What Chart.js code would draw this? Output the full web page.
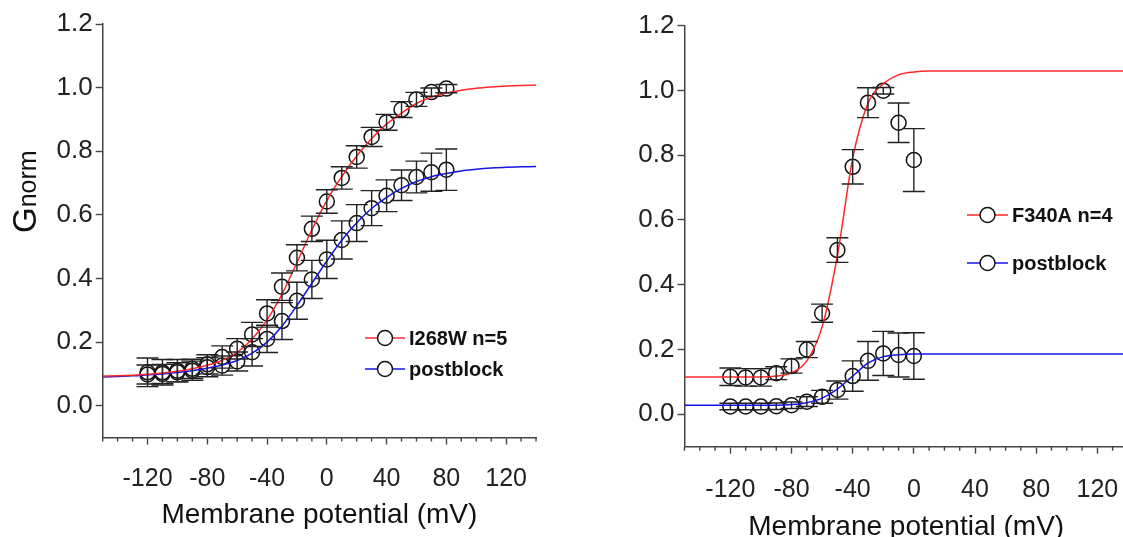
<!DOCTYPE html>
<html>
<head>
<meta charset="utf-8">
<script src="https://cdn.jsdelivr.net/npm/chart.js@4.4.0/dist/chart.umd.min.js"></script>
<style>
html, body { margin: 0; padding: 0; background: #fff; overflow: hidden; width: 1123px; height: 537px; }
canvas { position: absolute; top: 0; }
#left { left: 0; }
#right { left: 560px; }
</style>
</head>
<body>
<canvas id="left" width="560" height="537"></canvas>
<canvas id="right" width="580" height="550"></canvas>
<script>
// ---- left panel: I268W ----
var vLeft = [-120, -110, -100, -90, -80, -70, -60, -50, -40, -30, -20, -10, 0, 10, 20, 30, 40, 50, 60, 70, 80];
var i268w = [0.105, 0.105, 0.11, 0.116, 0.13, 0.153, 0.179, 0.224, 0.29, 0.374, 0.465, 0.556, 0.642, 0.716, 0.782, 0.845, 0.891, 0.931, 0.963, 0.986, 0.997];
var i268wErr = [0.045, 0.04, 0.035, 0.03, 0.03, 0.035, 0.032, 0.038, 0.043, 0.043, 0.041, 0.04, 0.037, 0.035, 0.035, 0.03, 0.025, 0.025, 0.022, 0.013, 0.013];
var postLeft = [0.098, 0.1, 0.105, 0.11, 0.121, 0.126, 0.139, 0.168, 0.21, 0.266, 0.33, 0.397, 0.46, 0.521, 0.574, 0.621, 0.66, 0.693, 0.719, 0.734, 0.742];
var postLeftErr = [0.03, 0.03, 0.03, 0.03, 0.03, 0.03, 0.03, 0.043, 0.043, 0.058, 0.058, 0.06, 0.06, 0.06, 0.058, 0.055, 0.05, 0.048, 0.05, 0.06, 0.065];

// fitted curves, read every 10 mV
var vFit = [-150, -140, -130, -120, -110, -100, -90, -80, -70, -60, -50, -40, -30, -20, -10, 0, 10, 20, 30, 40, 50, 60, 70, 80, 90, 100, 110, 120, 130, 140];
var i268wFit = [0.093, 0.094, 0.096, 0.099, 0.103, 0.108, 0.116, 0.127, 0.143, 0.168, 0.21, 0.27, 0.35, 0.45, 0.553, 0.645, 0.72, 0.785, 0.84, 0.885, 0.92, 0.95, 0.97, 0.983, 0.992, 0.998, 1.002, 1.005, 1.007, 1.008];
var postLeftFit = [0.09, 0.092, 0.094, 0.097, 0.1, 0.104, 0.11, 0.118, 0.128, 0.142, 0.165, 0.2, 0.25, 0.315, 0.385, 0.455, 0.52, 0.575, 0.62, 0.655, 0.683, 0.705, 0.72, 0.73, 0.738, 0.743, 0.747, 0.75, 0.751, 0.752];

// ---- right panel: F340A ----
var vRight = [-120, -110, -100, -90, -80, -70, -60, -50, -40, -30, -20, -10, 0];
var f340a = [0.116, 0.114, 0.114, 0.127, 0.149, 0.2, 0.312, 0.507, 0.764, 0.962, 0.999, 0.9, 0.785];
var f340aErr = [0.027, 0.027, 0.027, 0.02, 0.022, 0.025, 0.028, 0.038, 0.053, 0.046, 0.01, 0.061, 0.097];
var postRight = [0.024, 0.024, 0.024, 0.025, 0.028, 0.039, 0.054, 0.075, 0.118, 0.165, 0.188, 0.183, 0.18];
var postRightErr = [0.01, 0.01, 0.01, 0.01, 0.01, 0.015, 0.02, 0.028, 0.047, 0.06, 0.068, 0.068, 0.072];
var f340aFit = [0.115, 0.115, 0.115, 0.115, 0.115, 0.115, 0.118, 0.128, 0.165, 0.27, 0.49, 0.79, 0.96, 1.02, 1.048, 1.057, 1.06, 1.06, 1.06, 1.06, 1.06, 1.06, 1.06, 1.06, 1.06, 1.06, 1.06, 1.06, 1.06, 1.06];
var postRightFit = [0.028, 0.028, 0.028, 0.028, 0.028, 0.028, 0.028, 0.03, 0.036, 0.05, 0.078, 0.118, 0.158, 0.178, 0.184, 0.186, 0.186, 0.186, 0.186, 0.186, 0.186, 0.186, 0.186, 0.186, 0.186, 0.186, 0.186, 0.186, 0.186, 0.186];

var xMajor = [-120, -80, -40, 0, 40, 80, 120];
var xMinor = [-150, -140, -130, -110, -100, -90, -70, -60, -50, -30, -20, -10, 10, 20, 30, 50, 60, 70, 90, 100, 110, 130, 140];
var yTicks = [0, 0.2, 0.4, 0.6, 0.8, 1.0, 1.2];

var FONT = "'Liberation Sans', Arial, sans-serif";
var RED = 'rgb(255,40,40)';
var BLUE = 'rgb(20,20,235)';
var AXIS = '#444';

function pts(xs, ys) {
  return xs.map(function (x, i) { return { x: x, y: ys[i] }; });
}

// error bars with caps
var errorBars = {
  id: 'errorBars',
  afterDatasetsDraw: function (chart) {
    var ctx = chart.ctx, xs = chart.scales.x, ys = chart.scales.y;
    ctx.save();
    ctx.strokeStyle = '#222';
    ctx.lineWidth = 1.4;
    chart.data.datasets.forEach(function (ds) {
      if (!ds.err) return;
      ds.data.forEach(function (p, i) {
        var px = xs.getPixelForValue(p.x);
        var top = ys.getPixelForValue(p.y + ds.err[i]);
        var bot = ys.getPixelForValue(p.y - ds.err[i]);
        ctx.beginPath();
        ctx.moveTo(px, top); ctx.lineTo(px, bot);
        ctx.moveTo(px - 11, top); ctx.lineTo(px + 11, top);
        ctx.moveTo(px - 11, bot); ctx.lineTo(px + 11, bot);
        ctx.stroke();
      });
    });
    ctx.restore();
  }
};

// minor x ticks, y title and legend
var decorations = {
  id: 'decorations',
  afterDraw: function (chart, args, o) {
    var ctx = chart.ctx, xs = chart.scales.x;
    ctx.save();
    ctx.strokeStyle = AXIS;
    ctx.lineWidth = 1.4;
    ctx.beginPath();
    xMinor.forEach(function (v) {
      var px = xs.getPixelForValue(v);
      ctx.moveTo(px, xs.top); ctx.lineTo(px, xs.top + 4);
    });
    ctx.stroke();

    // Gnorm
    ctx.fillStyle = '#111';
    ctx.translate(o.gx, o.gy);
    ctx.rotate(-Math.PI / 2);
    ctx.font = '33px ' + FONT;
    ctx.fillText('G', 0, 0);
    var w = ctx.measureText('G').width;
    ctx.font = '25px ' + FONT;
    ctx.fillText('norm', w, 0);
    ctx.setTransform(1, 0, 0, 1, 0, 0);

    // legend
    o.legend.forEach(function (it) {
      ctx.strokeStyle = it.color;
      ctx.lineWidth = 1.5;
      ctx.beginPath();
      ctx.moveTo(it.x1, it.y); ctx.lineTo(it.x2, it.y);
      ctx.stroke();
      ctx.strokeStyle = '#111';
      ctx.fillStyle = '#fff';
      ctx.beginPath();
      ctx.arc((it.x1 + it.x2) / 2, it.y, 7.5, 0, Math.PI * 2);
      ctx.fill();
      ctx.stroke();
      ctx.fillStyle = '#111';
      ctx.font = 'bold 20px ' + FONT;
      ctx.textBaseline = 'middle';
      ctx.fillText(it.text, it.x2 + 4, it.y + 1);
    });
    ctx.restore();
  }
};

function makePanel(id, cfg) {
  var canvas = document.getElementById(id);
  var H = canvas.height;
  return new Chart(canvas, {
    type: 'scatter',
    data: {
      datasets: [
        { type: 'line', data: pts(vFit, cfg.fitA), borderColor: RED, borderWidth: 1.5, pointRadius: 0, cubicInterpolationMode: 'monotone', fill: false },
        { type: 'line', data: pts(vFit, cfg.fitB), borderColor: BLUE, borderWidth: 1.5, pointRadius: 0, cubicInterpolationMode: 'monotone', fill: false },
        { data: pts(cfg.v, cfg.a), err: cfg.errA, showLine: false, pointRadius: 7.5, pointBorderWidth: 1.5, pointBorderColor: '#111', pointBackgroundColor: 'rgba(0,0,0,0)' },
        { data: pts(cfg.v, cfg.b), err: cfg.errB, showLine: false, pointRadius: 7.5, pointBorderWidth: 1.5, pointBorderColor: '#111', pointBackgroundColor: 'rgba(0,0,0,0)' }
      ]
    },
    options: {
      responsive: false,
      animation: false,
      layout: { padding: { left: 0, right: cfg.padRight, top: cfg.padTop, bottom: 0 } },
      plugins: {
        legend: { display: false },
        tooltip: { enabled: false },
        decorations: { gx: cfg.gx, gy: cfg.gy, legend: cfg.legend }
      },
      scales: {
        x: {
          type: 'linear', min: -150, max: 140,
          afterBuildTicks: function (s) { s.ticks = xMajor.map(function (v) { return { value: v }; }); },
          afterFit: function (s) { s.height = H - cfg.axisY; },
          ticks: { font: { size: 25, family: FONT }, color: '#222', padding: cfg.tickPad, maxRotation: 0, autoSkip: false },
          grid: { drawOnChartArea: false, tickLength: 7, tickColor: AXIS, tickWidth: 1.4 },
          border: { color: AXIS, width: 1.5 },
          title: { display: true, text: 'Membrane potential (mV)', color: '#111', font: { size: 28, family: FONT }, padding: { top: 0, bottom: cfg.titlePad } }
        },
        y: {
          type: 'linear', min: -0.1, max: 1.2,
          afterBuildTicks: function (s) { s.ticks = yTicks.map(function (v) { return { value: v }; }); },
          afterFit: function (s) { s.width = cfg.axisX; },
          ticks: { font: { size: 26, family: FONT }, color: '#222', padding: 3, callback: function (v) { return v.toFixed(1); } },
          grid: { drawOnChartArea: false, tickLength: 7, tickColor: AXIS, tickWidth: 1.4 },
          border: { color: AXIS, width: 1.5 }
        }
      }
    },
    plugins: [errorBars, decorations]
  });
}

makePanel('left', {
  v: vLeft, a: i268w, errA: i268wErr, b: postLeft, errB: postLeftErr,
  fitA: i268wFit, fitB: postLeftFit,
  axisX: 102.7, axisY: 437.5, padRight: 24, padTop: 24, tickPad: 20, titlePad: 5,
  gx: 36, gy: 233,
  legend: [
    { x1: 365, x2: 405, y: 338, color: RED, text: 'I268W n=5' },
    { x1: 365, x2: 405, y: 369, color: BLUE, text: 'postblock' }
  ]
});

makePanel('right', {
  v: vRight, a: f340a, errA: f340aErr, b: postRight, errB: postRightErr,
  fitA: f340aFit, fitB: postRightFit,
  axisX: 124.5, axisY: 446.7, padRight: 11.8, padTop: 25.6, tickPad: 21, titlePad: 6,
  gx: 615, gy: 239,
  legend: [
    { x1: 407, x2: 448, y: 215, color: RED, text: 'F340A n=4' },
    { x1: 407, x2: 448, y: 263, color: BLUE, text: 'postblock' }
  ]
});
</script>
</body>
</html>
